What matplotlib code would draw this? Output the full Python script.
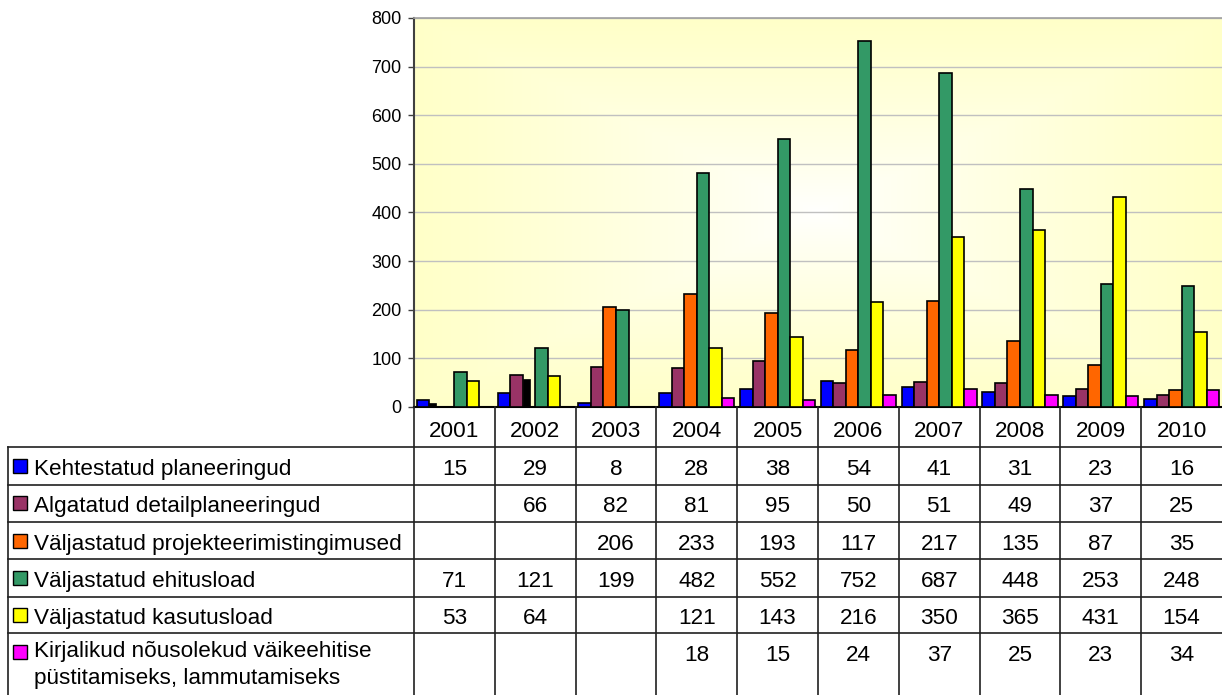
import numpy as np
import matplotlib
matplotlib.use("Agg")
import matplotlib.pyplot as plt
from matplotlib.patches import Rectangle

plt.rcParams['font.family'] = ['Liberation Sans', 'DejaVu Sans']

years = ['2001', '2002', '2003', '2004', '2005', '2006', '2007', '2008', '2009', '2010']
series_names = [
    'Kehtestatud planeeringud',
    'Algatatud detailplaneeringud',
    'Väljastatud projekteerimistingimused',
    'Väljastatud ehitusload',
    'Väljastatud kasutusload',
    'Kirjalikud nõusolekud väikeehitise\npüstitamiseks, lammutamiseks',
]
kehtestatud = [15, 29, 8, 28, 38, 54, 41, 31, 23, 16]
algatatud = [None, 66, 82, 81, 95, 50, 51, 49, 37, 25]
projekteerimis = [None, None, 206, 233, 193, 117, 217, 135, 87, 35]
ehitusload = [71, 121, 199, 482, 552, 752, 687, 448, 253, 248]
kasutusload = [53, 64, None, 121, 143, 216, 350, 365, 431, 154]
kirjalikud = [None, None, None, 18, 15, 24, 37, 25, 23, 34]
series_values = [kehtestatud, algatatud, projekteerimis, ehitusload, kasutusload, kirjalikud]
colors = ['#0000FF', '#993366', '#FF6600', '#339966', '#FFFF00', '#FF00FF']

# stray narrow black bars visible in the chart (year index, slot index, value)
extra_year_idx = [0, 1]
extra_slot_idx = [1, 2]
extra_values = [8, 58]

yticks = [0, 100, 200, 300, 400, 500, 600, 700, 800]

W, H = 1222, 695
fig = plt.figure(figsize=(W / 100, H / 100), dpi=100)

# pixel geometry
ax_left, ax_right, ax_top, ax_bottom = 414, 1222, 18, 407
ax = fig.add_axes([ax_left / W, 1 - ax_bottom / H, (ax_right - ax_left) / W, (ax_bottom - ax_top) / H])
ax.set_xlim(-0.5, 9.5)
ax.set_ylim(0, 800)

# gradient background (rectangular "from center")
nx, ny = 400, 200
gx = np.linspace(-1, 1, nx)
gy = np.linspace(-1, 1, ny)
GX, GY = np.meshgrid(gx, gy)
d = np.clip(np.maximum(np.abs(GX), np.abs(GY)), 0, 1) ** 0.8
yellow = np.array([255, 255, 200]) / 255
white = np.array([255, 255, 255]) / 255
img = white[None, None, :] * (1 - d[..., None]) + yellow[None, None, :] * d[..., None]
ax.imshow(img, extent=(-0.5, 9.5, 0, 800), aspect='auto', zorder=0, origin='lower')

ax.set_yticks(yticks)
ax.yaxis.grid(True, color='#C0C0C0', lw=1.0, zorder=1)
ax.set_axisbelow(True)
ax.set_xticks([])
ax.tick_params(axis='y', direction='out', length=4, width=1, color='#404040', labelsize=13, pad=5)
ax.spines['right'].set_visible(False)
ax.spines['left'].set_color('#404040')
ax.spines['left'].set_linewidth(1.5)
ax.spines['top'].set_color('#A0A0A0')
ax.spines['top'].set_linewidth(1.2)
ax.spines['bottom'].set_color('#000000')
ax.spines['bottom'].set_linewidth(1.5)

x = np.arange(len(years))
gap = 0.07
bw = (1 - gap) / 6
for i, (vals, c) in enumerate(zip(series_values, colors)):
    xs = [xi - 0.5 + gap / 2 + i * bw for xi, v in zip(x, vals) if v is not None]
    hs = [v for v in vals if v is not None]
    ax.bar(xs, hs, width=bw, align='edge', color=c, edgecolor='black', linewidth=1.2, zorder=3)

ex_x = [x[yi] - 0.5 + gap / 2 + si * bw for yi, si in zip(extra_year_idx, extra_slot_idx)]
ax.bar(ex_x, extra_values, width=bw * 0.55, align='edge', color='black', edgecolor='black', linewidth=0.5, zorder=3)

# table overlay in pixel coordinates
tax = fig.add_axes([0, 0, 1, 1], zorder=5)
tax.set_xlim(0, W)
tax.set_ylim(H, 0)
tax.axis('off')

col_w = (ax_right - ax_left) / len(years)
col_x = [ax_left + k * col_w for k in range(len(years) + 1)]
row_lines = [447, 485, 522, 559, 597, 633]
row_centers = [466, 503, 541, 578, 615, 652]
leg_left = 8
lc = '#202020'

for cx in col_x[:-1]:
    tax.plot([cx, cx], [ax_bottom, H], color=lc, lw=1.2)
tax.plot([leg_left, leg_left], [row_lines[0], H], color=lc, lw=1.2)
for ry in row_lines:
    tax.plot([leg_left, W], [ry, ry], color=lc, lw=1.2)

fs = 16.2
for k, yr in enumerate(years):
    tax.text(col_x[k] + col_w / 2, 429, yr, ha='center', va='center_baseline', fontsize=fs)

for r, (name, vals, c) in enumerate(zip(series_names, series_values, colors)):
    cy = row_centers[r]
    tax.add_patch(Rectangle((13, cy - 7), 14, 14, facecolor=c, edgecolor='black', lw=1.0))
    if '\n' in name:
        tax.text(34, cy - 11, name, ha='left', va='top', fontsize=fs, linespacing=1.4)
    else:
        tax.text(34, cy + 1, name, ha='left', va='center_baseline', fontsize=fs)
    for k, v in enumerate(vals):
        if v is not None:
            tax.text(col_x[k] + col_w / 2, cy + 1, str(v), ha='center', va='center_baseline', fontsize=fs)

fig.savefig('out.png', dpi=100)
